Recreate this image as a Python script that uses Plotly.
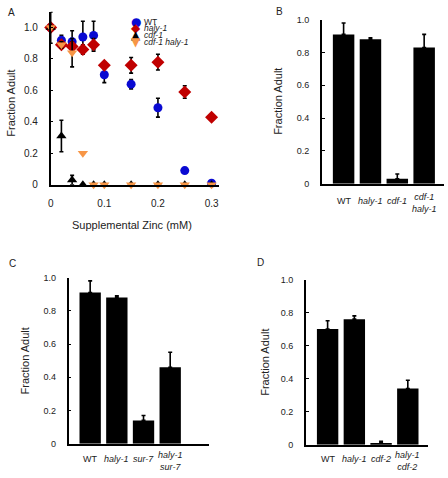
import plotly.graph_objects as go

# ---------------- Data ----------------
zinc = [0, 0.02, 0.04, 0.06, 0.08, 0.1, 0.15, 0.2, 0.25, 0.3]
wt_vals = [1.0, 0.92, 0.91, 0.94, 0.95, 0.70, 0.64, 0.49, 0.09, 0.01]
wt_err = [0.0, 0.03, 0.07, 0.10, 0.09, 0.05, 0.03, 0.06, 0.0, 0.0]
haly_vals = [1.0, 0.89, 0.88, 0.86, 0.89, 0.76, 0.76, 0.78, 0.59, 0.43]
haly_err = [0.0, 0.02, 0.03, 0.03, 0.04, 0.02, 0.05, 0.05, 0.04, 0.0]
cdf1_vals = [1.0, 0.31, 0.03, 0.0, 0.0, 0.0, 0.0, 0.0, 0.0, 0.0]
cdf1_err = [0.1, 0.10, 0.03, 0.0, 0.0, 0.0, 0.0, 0.0, 0.0, 0.0]
dbl_vals = [1.0, 0.89, 0.84, 0.20, 0.0, 0.0, 0.0, 0.0, 0.0, 0.0]
dbl_err = [0.0, 0.02, 0.09, 0.0, 0.0, 0.0, 0.0, 0.0, 0.0, 0.0]
series_names = ["WT", "<i>haly-1</i>", "<i>cdf-1</i>", "<i>cdf-1 haly-1</i>"]

b_labels = ["WT", "<i>haly-1</i>", "<i>cdf-1</i>", "<i>cdf-1</i><br><i>haly-1</i>"]
b_vals = [0.91, 0.88, 0.03, 0.83]
b_err = [0.07, 0.01, 0.03, 0.08]

c_labels = ["WT", "<i>haly-1</i>", "<i>sur-7</i>", "<i>haly-1</i><br><i>sur-7</i>"]
c_vals = [0.91, 0.88, 0.14, 0.46]
c_err = [0.07, 0.01, 0.03, 0.09]

d_labels = ["WT", "<i>haly-1</i>", "<i>cdf-2</i>", "<i>haly-1</i><br><i>cdf-2</i>"]
d_vals = [0.70, 0.76, 0.01, 0.34]
d_err = [0.05, 0.02, 0.01, 0.05]

y_ticks = [0, 0.2, 0.4, 0.6, 0.8, 1.0]
y_ticktext = ["0", "0.2", "0.4", "0.6", "0.8", "1.0"]
x_ticks_a = [0, 0.1, 0.2, 0.3]
x_ticktext_a = ["0", "0.1", "0.2", "0.3"]

FONT = "Liberation Sans, Arial, sans-serif"
BLUE = "#0a0ad2"
RED = "#c00000"
ORANGE = "#f79646"
BLACK = "#000000"
TXT = "#222222"
W, H = 448, 478

fig = go.Figure()

# ---------- Panel A ----------
def add_series(vals, err, color, symbol, size, name):
    fig.add_trace(go.Scatter(
        x=zinc, y=vals, mode="markers", name=name,
        marker=dict(color=color, symbol=symbol, size=size, line=dict(width=0)),
        error_y=dict(type="data", array=err, visible=True, color=BLACK,
                     thickness=1.6, width=2),
        cliponaxis=False, xaxis="x", yaxis="y", showlegend=False))

add_series(wt_vals, wt_err, BLUE, "circle", 9, series_names[0])
add_series(haly_vals, haly_err, RED, "diamond", 10, series_names[1])
add_series(cdf1_vals, cdf1_err, BLACK, "triangle-up", 9, series_names[2])
add_series(dbl_vals, dbl_err, ORANGE, "triangle-down", 9, series_names[3])

# ---------- Bar panels ----------
def add_bars(vals, err, xa, ya):
    fig.add_trace(go.Bar(
        x=list(range(len(vals))), y=vals, width=0.8,
        marker=dict(color=BLACK, line=dict(width=0)),
        error_y=dict(type="data", array=err, arrayminus=[0] * len(err),
                     visible=True, color=BLACK, thickness=1.6, width=2),
        xaxis=xa, yaxis=ya, showlegend=False, cliponaxis=False))

add_bars(b_vals, b_err, "x2", "y2")
add_bars(c_vals, c_err, "x3", "y3")
add_bars(d_vals, d_err, "x4", "y4")

def px_x(p):
    return p / W

def px_y(p):
    return 1 - p / H

axis_common = dict(showgrid=False, zeroline=False, showline=True,
                   linecolor=BLACK, linewidth=1.6, mirror=False,
                   tickfont=dict(family=FONT, size=9, color=TXT))

yaxis_common = dict(axis_common, tickmode="array", tickvals=y_ticks,
                    ticktext=y_ticktext, ticks="inside", ticklen=3,
                    tickwidth=1.2, tickcolor=BLACK, ticklabelstandoff=9)

bar_x = dict(axis_common, showticklabels=False, ticks="",
             tickmode="array", tickvals=list(range(4)))

layout = dict(
    width=W, height=H,
    margin=dict(l=0, r=0, t=0, b=0),
    paper_bgcolor="white", plot_bgcolor="white",
    showlegend=False,
    font=dict(family=FONT, size=10, color=TXT),
    # Panel A
    xaxis=dict(axis_common, domain=[px_x(48), px_x(217)], range=[0, 0.313],
               tickmode="array", tickvals=x_ticks_a, ticktext=x_ticktext_a,
               ticks="", anchor="y", ticklabelstandoff=8,
               tickfont=dict(family=FONT, size=10, color=TXT)),
    yaxis=dict(yaxis_common, domain=[px_y(184), px_y(7)], range=[0, 1.1],
               anchor="x", ticklabelstandoff=9,
               tickfont=dict(family=FONT, size=10, color=TXT)),
    # Panel B
    xaxis2=dict(bar_x, domain=[px_x(321), px_x(444)], range=[-0.81, 3.74],
                anchor="y2"),
    yaxis2=dict(yaxis_common, domain=[px_y(183), px_y(15)], range=[0, 1.0],
                anchor="x2"),
    # Panel C
    xaxis3=dict(bar_x, domain=[px_x(66), px_x(207)], range=[-0.81, 4.44],
                anchor="y3"),
    yaxis3=dict(yaxis_common, domain=[px_y(449), px_y(279)], range=[0, 1.0],
                anchor="x3"),
    # Panel D
    xaxis4=dict(bar_x, domain=[px_x(305), px_x(428)], range=[-0.81, 3.76],
                anchor="y4"),
    yaxis4=dict(yaxis_common, domain=[px_y(450), px_y(281)], range=[0, 1.0],
                anchor="x4"),
)
fig.update_layout(**layout)

annotations = []

def ann(text, x, y, size=11, angle=0, xanchor="center", yanchor="middle"):
    annotations.append(dict(text=text, x=px_x(x), y=px_y(y), xref="paper",
                            yref="paper", showarrow=False, textangle=angle,
                            xanchor=xanchor, yanchor=yanchor,
                            font=dict(family=FONT, size=size, color=TXT)))

# Panel letters
ann("A", 9, 8, size=10)
ann("B", 278, 7, size=10)
ann("C", 10, 265, size=10)
ann("D", 259, 264, size=10)

# Axis titles
ann("Fraction Adult", 8, 100, size=11, angle=-90)
ann("Supplemental Zinc (mM)", 130, 225, size=11)
ann("Fraction Adult", 277, 99, size=11, angle=-90)
ann("Fraction Adult", 22, 364, size=11, angle=-90)
ann("Fraction Adult", 263, 366, size=11, angle=-90)

# Category labels below the bar panels (positioned on the category axes)
for labels, xref, ymid in ((b_labels, "x2", 201), (c_labels, "x3", 465),
                           (d_labels, "x4", 465)):
    for i, lab in enumerate(labels):
        two = "<br>" in lab
        annotations.append(dict(text=lab, x=i, xref=xref,
                                y=px_y(ymid + (1.5 if two else 0)),
                                yref="paper", showarrow=False,
                                xanchor="center", yanchor="middle",
                                font=dict(family=FONT, size=9, color=TXT)))

# Legend for panel A
legend_colors = [BLUE, RED, BLACK, ORANGE]
legend_glyphs = ["●", "◆", "▲", "▼"]
legend_rows = [17, 24, 31, 38]
for name, col, g, yy in zip(series_names, legend_colors, legend_glyphs, legend_rows):
    annotations.append(dict(text=g, x=px_x(134), y=px_y(yy), xref="paper",
                            yref="paper", showarrow=False, xanchor="center",
                            yanchor="middle",
                            font=dict(family="DejaVu Sans", size=12, color=col)))
    annotations.append(dict(text=name, x=px_x(140), y=px_y(yy), xref="paper",
                            yref="paper", showarrow=False, xanchor="left",
                            yanchor="middle",
                            font=dict(family=FONT, size=8.5, color=TXT)))

fig.update_layout(annotations=annotations)

fig.write_html("out.html",
               config={"displayModeBar": False},
               post_script="document.body.style.margin='0';"
                           "document.body.style.overflow='hidden';")
